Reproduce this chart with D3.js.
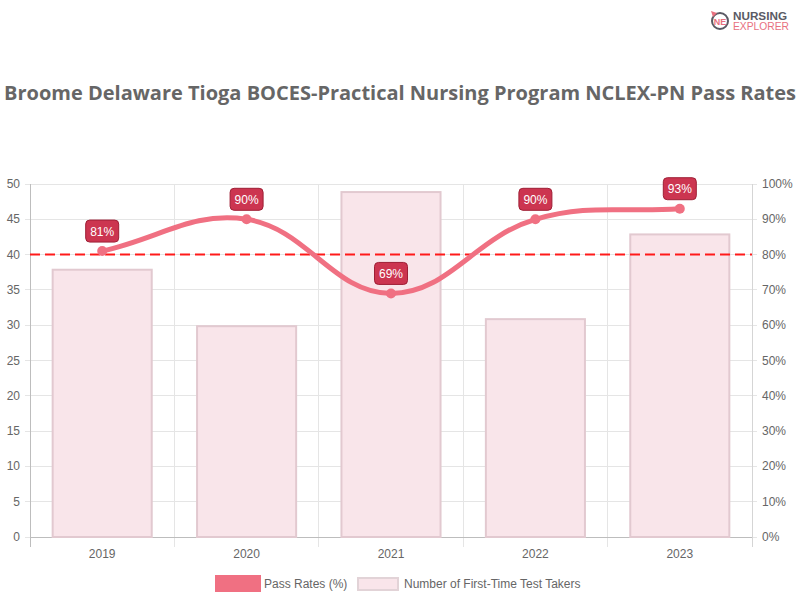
<!DOCTYPE html>
<html><head><meta charset="utf-8">
<script src="https://cdn.jsdelivr.net/npm/d3@7"></script>
<style>html,body{margin:0;padding:0;background:#fff;}svg{display:block;}</style>
</head><body>
<svg id="chart" width="800" height="600"></svg>
<script>
const categories = ["2019","2020","2021","2022","2023"];
const testTakers = [38, 30, 49, 31, 43];
const passRates = [81, 90, 69, 90, 93];
const leftTicks = [0,5,10,15,20,25,30,35,40,45,50];
const rightTicks = [0,10,20,30,40,50,60,70,80,90,100];
const benchmark = 80;
const titleText = "Broome Delaware Tioga BOCES-Practical Nursing Program NCLEX-PN Pass Rates";

const svg = d3.select("#chart");
const W = 800, H = 600;
const m = {left: 30, right: 48, top: 184, bottom: 63};
const x0 = m.left, x1 = W - m.right, yTop = m.top, yBot = H - m.bottom;

const x = d3.scaleBand().domain(categories).range([x0, x1]).paddingInner(0).paddingOuter(0);
const yL = d3.scaleLinear().domain([0, 50]).range([yBot, yTop]);
const yR = d3.scaleLinear().domain([0, 100]).range([yBot, yTop]);

const font = "'Liberation Sans', Arial, Helvetica, sans-serif";

// Title
svg.append("text").attr("x", 400).attr("y", 100).attr("text-anchor", "middle")
  .attr("font-family", "'Open Sans', sans-serif").attr("font-weight", "bold").attr("font-size", 20)
  .attr("fill", "#666").attr("textLength", 792).attr("lengthAdjust", "spacingAndGlyphs").text(titleText);

// Logo
const logo = svg.append("g");
logo.append("circle").attr("cx", 720).attr("cy", 21).attr("r", 8).attr("fill", "none").attr("stroke", "#5a5a64").attr("stroke-width", 2);
logo.append("path").attr("d", "M711,11 L717,13 L713,17 Z").attr("fill", "#e8707f");
logo.append("text").attr("x", 720).attr("y", 24.5).attr("text-anchor", "middle").attr("font-family", font)
  .attr("font-weight", "bold").attr("font-size", 9).attr("fill", "#e8707f").text("NE");
logo.append("text").attr("x", 733).attr("y", 20).attr("font-family", font).attr("font-weight", "bold")
  .attr("font-size", 11).attr("fill", "#5a5a64").attr("textLength", 54).attr("lengthAdjust", "spacingAndGlyphs").text("NURSING");
logo.append("text").attr("x", 733).attr("y", 30).attr("font-family", font)
  .attr("font-size", 10).attr("fill", "#e8707f").attr("textLength", 56).attr("lengthAdjust", "spacingAndGlyphs").text("EXPLORER");

// Grid horizontal
const grid = svg.append("g");
leftTicks.forEach(t => {
  grid.append("line").attr("x1", x0).attr("x2", x1).attr("y1", yL(t)).attr("y2", yL(t))
    .attr("stroke", "#e5e5e5").attr("stroke-width", 1).attr("shape-rendering", "crispEdges");
  grid.append("line").attr("x1", x0 - 5).attr("x2", x0).attr("y1", yL(t)).attr("y2", yL(t))
    .attr("stroke", "#e5e5e5").attr("shape-rendering", "crispEdges");
});
rightTicks.forEach(t => {
  grid.append("line").attr("x1", x1).attr("x2", x1 + 5).attr("y1", yR(t)).attr("y2", yR(t))
    .attr("stroke", "#e5e5e5").attr("shape-rendering", "crispEdges");
});
// vertical grid at category boundaries
const bounds = categories.map(c => x(c)).concat([x1]);
bounds.forEach((b, i) => {
  grid.append("line").attr("x1", b).attr("x2", b).attr("y1", yTop).attr("y2", yBot + 10)
    .attr("stroke", (i === 0) ? "#bdbdbd" : (i === bounds.length - 1 ? "#d5d5d5" : "#e5e5e5"))
    .attr("stroke-width", 1).attr("shape-rendering", "crispEdges");
});
// bottom axis line
grid.append("line").attr("x1", x0).attr("x2", x1).attr("y1", yBot).attr("y2", yBot)
  .attr("stroke", "#bdbdbd").attr("shape-rendering", "crispEdges");

// Tick labels
svg.append("g").selectAll("text").data(leftTicks).join("text")
  .attr("x", x0 - 10).attr("y", d => yL(d) + 4).attr("text-anchor", "end")
  .attr("font-family", font).attr("font-size", 12).attr("fill", "#666").text(d => d);
svg.append("g").selectAll("text").data(rightTicks).join("text")
  .attr("x", x1 + 10).attr("y", d => yR(d) + 4).attr("text-anchor", "start")
  .attr("font-family", font).attr("font-size", 12).attr("fill", "#666").text(d => d + "%");
svg.append("g").selectAll("text").data(categories).join("text")
  .attr("x", d => x(d) + x.bandwidth() / 2).attr("y", yBot + 21).attr("text-anchor", "middle")
  .attr("font-family", font).attr("font-size", 12).attr("fill", "#666").text(d => d);

// Bars
const barW = x.bandwidth() * 0.7;
svg.append("g").selectAll("rect").data(categories).join("rect")
  .attr("x", d => x(d) + (x.bandwidth() - barW) / 2 + 1)
  .attr("y", (d, i) => yL(testTakers[i]) + 1)
  .attr("width", barW - 2)
  .attr("height", (d, i) => yBot - yL(testTakers[i]) - 1)
  .attr("fill", "#f9e5ea").attr("stroke", "#e2c9d0").attr("stroke-width", 2);

// Benchmark dashed line
svg.append("line").attr("x1", x0).attr("x2", x1).attr("y1", yR(benchmark)).attr("y2", yR(benchmark))
  .attr("stroke", "#ff1a1a").attr("stroke-width", 2).attr("stroke-dasharray", "10,5");

// Line (Chart.js-like spline, tension 0.4)
const pts = categories.map((c, i) => ({x: x(c) + x.bandwidth() / 2, y: yR(passRates[i])}));
const t = 0.4;
const cps = pts.map((p, i) => {
  const prev = pts[Math.max(i - 1, 0)], next = pts[Math.min(i + 1, pts.length - 1)];
  const d01 = Math.hypot(p.x - prev.x, p.y - prev.y), d12 = Math.hypot(next.x - p.x, next.y - p.y);
  let s01 = d01 / (d01 + d12), s12 = d12 / (d01 + d12);
  if (isNaN(s01)) s01 = 0; if (isNaN(s12)) s12 = 0;
  const fa = t * s01, fb = t * s12;
  return {
    px: p.x - fa * (next.x - prev.x), py: p.y - fa * (next.y - prev.y),
    nx: p.x + fb * (next.x - prev.x), ny: p.y + fb * (next.y - prev.y)
  };
});
const path = d3.path();
path.moveTo(pts[0].x, pts[0].y);
for (let i = 1; i < pts.length; i++) {
  path.bezierCurveTo(cps[i - 1].nx, cps[i - 1].ny, cps[i].px, cps[i].py, pts[i].x, pts[i].y);
}
svg.append("path").attr("d", path.toString()).attr("fill", "none")
  .attr("stroke", "#f07082").attr("stroke-width", 5).attr("stroke-linecap", "round");
svg.append("g").selectAll("circle").data(pts).join("circle")
  .attr("cx", d => d.x).attr("cy", d => d.y).attr("r", 5).attr("fill", "#f07082");

// Data labels
const lbl = svg.append("g");
pts.forEach((p, i) => {
  const cx = p.x, cy = p.y - 20;
  lbl.append("rect").attr("x", cx - 16.5).attr("y", cy - 11).attr("width", 33).attr("height", 22)
    .attr("rx", 4).attr("fill", "#cc3550").attr("stroke", "#9e1f35").attr("stroke-width", 1);
  lbl.append("text").attr("x", cx).attr("y", cy + 4.5).attr("text-anchor", "middle")
    .attr("font-family", font).attr("font-size", 12).attr("fill", "#fff").text(passRates[i] + "%");
});

// Legend
const lg = svg.append("g");
lg.append("rect").attr("x", 217.5).attr("y", 577.5).attr("width", 41).attr("height", 12)
  .attr("fill", "#f07082").attr("stroke", "#f07082").attr("stroke-width", 5);
lg.append("text").attr("x", 264).attr("y", 587.5).attr("font-family", font).attr("font-size", 12)
  .attr("fill", "#666").text("Pass Rates (%)");
lg.append("rect").attr("x", 358).attr("y", 578).attr("width", 40).attr("height", 12)
  .attr("fill", "#f9e5ea").attr("stroke", "#e2d3d7").attr("stroke-width", 2);
lg.append("text").attr("x", 404).attr("y", 587.5).attr("font-family", font).attr("font-size", 12)
  .attr("fill", "#666").text("Number of First-Time Test Takers");
</script>
</body></html>
